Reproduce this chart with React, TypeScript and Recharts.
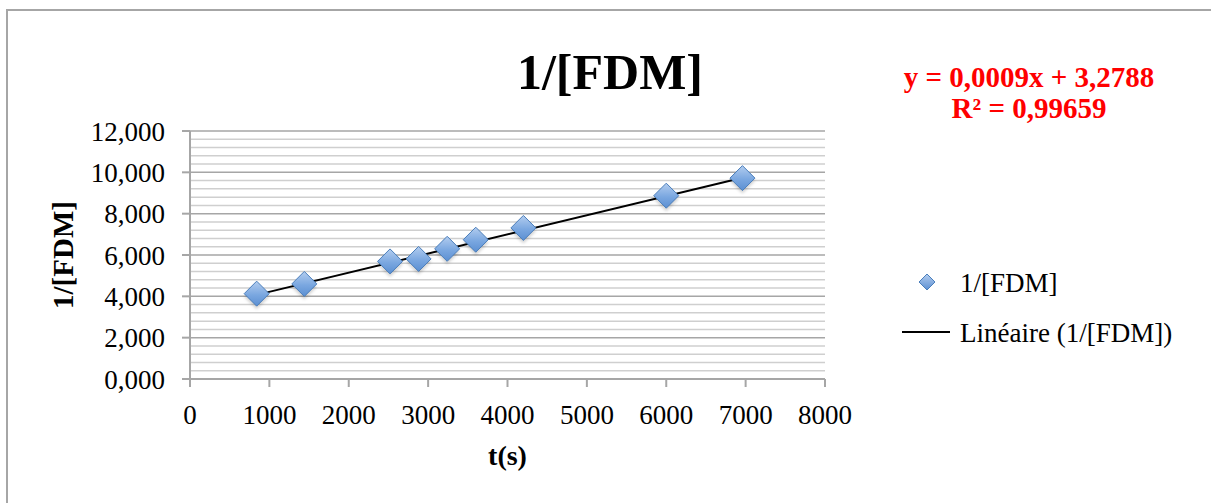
import React from 'react';
import { ScatterChart, Scatter, XAxis, YAxis, CartesianGrid, ReferenceLine } from 'recharts';

const timeSeconds = [840, 1440, 2520, 2880, 3240, 3600, 4200, 6000, 6960];
const invFdm = [4.13, 4.6, 5.69, 5.81, 6.3, 6.74, 7.31, 8.87, 9.72];
const trendX = [840, 6960];
const trendY = [4.07, 9.74];
const xTicks = [0, 1000, 2000, 3000, 4000, 5000, 6000, 7000, 8000];
const yTicks = [0, 2, 4, 6, 8, 10, 12];
const yMinor = [0.4, 0.8, 1.2, 1.6, 2.4, 2.8, 3.2, 3.6, 4.4, 4.8, 5.2, 5.6, 6.4, 6.8, 7.2, 7.6, 8.4, 8.8, 9.2, 9.6, 10.4, 10.8, 11.2, 11.6];
const seriesName = '1/[FDM]';
const trendName = 'Linéaire (1/[FDM])';
const equationLines = ['y = 0,0009x + 3,2788', 'R² = 0,99659'];

const points = timeSeconds.map((x, i) => ({ x, y: invFdm[i] }));
const trend = trendX.map((x, i) => ({ x, y: trendY[i] }));

const FONT = '"Liberation Serif", "DejaVu Serif", serif';
const W = 1211;
const H = 503;

const Diamond = (props: any) => {
  const { cx, cy } = props;
  if (cx == null || cy == null) return <g />;
  const r = 12.5;
  return (
    <g>
      <polygon
        points={`${cx},${cy - r + 3} ${cx + r},${cy + 3} ${cx},${cy + r + 3} ${cx - r},${cy + 3}`}
        fill="rgba(0,0,0,0.18)"
        filter="url(#blurShadow)"
      />
      <polygon
        points={`${cx},${cy - r} ${cx + r},${cy} ${cx},${cy + r} ${cx - r},${cy}`}
        fill="url(#diamondGrad)"
        stroke="#4a7ebb"
        strokeWidth={1}
      />
    </g>
  );
};

const NoShape = () => <g />;

const fmtY = (v: number) => v.toFixed(3).replace('.', ',');

export default function App() {
  return (
    <div style={{ position: 'absolute', left: 0, top: 0, width: W, height: H, background: '#fff', overflow: 'hidden' }}>
      <div
        style={{
          position: 'absolute',
          left: 6,
          top: 9,
          width: W - 6,
          height: H - 9,
          borderLeft: '2px solid #a6a6a6',
          borderTop: '2px solid #a6a6a6',
          boxSizing: 'border-box',
        }}
      />
      <div style={{ position: 'absolute', left: 0, top: 0 }}>
        <ScatterChart width={W} height={H} margin={{ top: 131, right: 386, bottom: 64, left: 0 }}>
          <defs>
            <linearGradient id="diamondGrad" x1="0" y1="0" x2="0" y2="1">
              <stop offset="0%" stopColor="#b3cdef" />
              <stop offset="55%" stopColor="#7aa7e0" />
              <stop offset="100%" stopColor="#5b8fd2" />
            </linearGradient>
            <filter id="blurShadow" x="-50%" y="-50%" width="200%" height="200%">
              <feGaussianBlur stdDeviation="1.5" />
            </filter>
          </defs>
          <CartesianGrid vertical={false} stroke="#a6a6a6" strokeWidth={1.5} horizontalValues={yTicks} />
          {yMinor.map((v) => (
            <ReferenceLine key={v} y={v} stroke="#cfcfcf" strokeWidth={1.5} />
          ))}
          <XAxis
            type="number"
            dataKey="x"
            domain={[0, 8000]}
            ticks={xTicks}
            interval={0}
            height={60}
            tickSize={8}
            tickMargin={18}
            axisLine={{ stroke: '#a6a6a6', strokeWidth: 2 }}
            tickLine={{ stroke: '#a6a6a6', strokeWidth: 2 }}
            tick={{ fill: '#000', fontSize: 27, fontFamily: FONT }}
            label={(p: any) => {
              const vb = p.viewBox || {};
              return (
                <text
                  x={vb.x + vb.width / 2}
                  y={455}
                  textAnchor="middle"
                  dominantBaseline="central"
                  fontFamily={FONT}
                  fontWeight="bold"
                  fontSize={28}
                  fill="#000"
                >
                  t(s)
                </text>
              );
            }}
          />
          <YAxis
            type="number"
            dataKey="y"
            domain={[0, 12]}
            ticks={yTicks}
            interval={0}
            width={190}
            tickSize={8}
            tickMargin={17}
            tickFormatter={fmtY}
            axisLine={{ stroke: '#a6a6a6', strokeWidth: 2 }}
            tickLine={{ stroke: '#a6a6a6', strokeWidth: 2 }}
            tick={{ fill: '#000', fontSize: 27, fontFamily: FONT }}
            label={(p: any) => {
              const vb = p.viewBox || {};
              const cy = vb.y + vb.height / 2;
              return (
                <text
                  x={63}
                  y={cy}
                  transform={`rotate(-90 63 ${cy})`}
                  textAnchor="middle"
                  dominantBaseline="central"
                  fontFamily={FONT}
                  fontWeight="bold"
                  fontSize={29}
                  fill="#000"
                >
                  {seriesName}
                </text>
              );
            }}
          />
          <Scatter
            name={trendName}
            data={trend}
            line={{ stroke: '#000', strokeWidth: 2 }}
            shape={NoShape}
            isAnimationActive={false}
          />
          <Scatter name={seriesName} data={points} shape={Diamond} isAnimationActive={false} />
        </ScatterChart>
      </div>
      <svg width={W} height={H} style={{ position: 'absolute', left: 0, top: 0, pointerEvents: 'none' }}>
        <defs>
          <linearGradient id="legendGrad" x1="0" y1="0" x2="0" y2="1">
            <stop offset="0%" stopColor="#b3cdef" />
            <stop offset="100%" stopColor="#5b8fd2" />
          </linearGradient>
        </defs>
        <text x={610} y={72} textAnchor="middle" dominantBaseline="central" fontFamily={FONT} fontWeight="bold" fontSize={50} fill="#000">
          {seriesName}
        </text>
        <text x={1029} y={77} textAnchor="middle" dominantBaseline="central" fontFamily={FONT} fontWeight="bold" fontSize={29} fill="#ff0000">
          {equationLines[0]}
        </text>
        <text x={1029} y={108} textAnchor="middle" dominantBaseline="central" fontFamily={FONT} fontWeight="bold" fontSize={29} fill="#ff0000">
          {equationLines[1]}
        </text>
        <polygon points="927,274 935,282 927,290 919,282" fill="url(#legendGrad)" stroke="#4a7ebb" strokeWidth={1} />
        <text x={960} y={283} dominantBaseline="central" fontFamily={FONT} fontSize={27} fill="#000">
          {seriesName}
        </text>
        <line x1={902} y1={332} x2={950} y2={332} stroke="#000" strokeWidth={2} />
        <text x={960} y={333} dominantBaseline="central" fontFamily={FONT} fontSize={27} fill="#000">
          {trendName}
        </text>
      </svg>
    </div>
  );
}
